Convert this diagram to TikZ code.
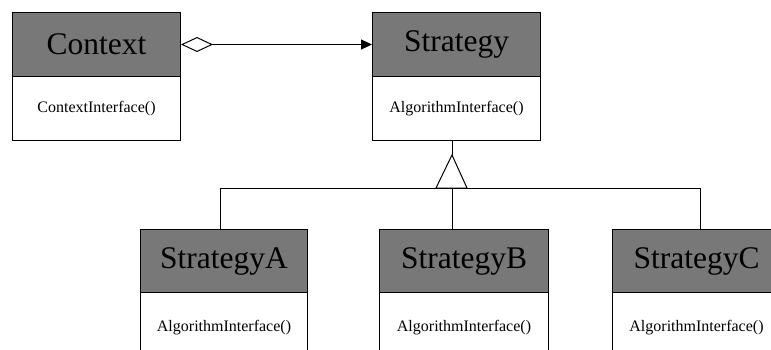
\documentclass[tikz,border=0pt]{standalone}
\usepackage{fontspec}
\setmainfont{Liberation Serif}
\usetikzlibrary{arrows.meta}
\definecolor{hdr}{RGB}{120,120,120}
\tikzset{
  classhead/.style={draw=black, fill=hdr, line width=1pt, inner sep=0pt,
    minimum height=64pt, anchor=north west,
    font=\fontsize{31.5}{36}\selectfont},
  classops/.style={draw=black, fill=white, line width=1pt, inner sep=0pt,
    minimum height=64pt, anchor=north west,
    font=\fontsize{16}{19}\selectfont},
  link/.style={draw=black, line width=1pt},
}
\begin{document}
\begin{tikzpicture}[x=1pt,y=-1pt]
\clip (0,0) rectangle (771,349);
\fill[white] (0,0) rectangle (771,349);

% Context class
\node[classhead, minimum width=168pt] (ctx) at (12,12) {Context};
\node[classops, minimum width=168pt] (ctxops) at (12,76) {ContextInterface()};

% Strategy class
\node[classhead, minimum width=168pt] (strat) at (372,12) {Strategy};
\node[classops, minimum width=168pt] (stratops) at (372,76) {AlgorithmInterface()};

% Concrete strategies
\node[classhead, minimum width=167pt, minimum height=63pt] (sa) at (140,229) {StrategyA};
\node[classops, minimum width=167pt, minimum height=70pt] (saops) at (140,292) {AlgorithmInterface()};
\node[classhead, minimum width=169pt, minimum height=63pt] (sb) at (379,229) {StrategyB};
\node[classops, minimum width=169pt, minimum height=70pt] (sbops) at (379,292) {AlgorithmInterface()};
\node[classhead, minimum width=168pt, minimum height=63pt] (sc) at (612,229) {StrategyC};
\node[classops, minimum width=168pt, minimum height=70pt] (scops) at (612,292) {AlgorithmInterface()};

% Aggregation: Context holds a Strategy
\draw[link, {Diamond[open, length=32pt, width=15pt, line width=1pt]}-{Triangle[length=11pt, width=10pt]}]
  (ctx.east) -- (strat.west);

% Inheritance tree
\coordinate (apex) at (452,155);
\coordinate (barA) at (220,188);
\coordinate (barB) at (452,188);
\coordinate (barC) at (700,188);
\draw[link] (apex |- stratops.south) -- (apex);
\draw[link, fill=white, line join=miter] (apex) -- (436,188) -- (467,188) -- cycle;
\draw[link] (barA) -- (barC);
\draw[link] (barA) -- (barA |- sa.north);
\draw[link] (barB) -- (barB |- sb.north);
\draw[link] (barC) -- (barC |- sc.north);
\end{tikzpicture}
\end{document}
